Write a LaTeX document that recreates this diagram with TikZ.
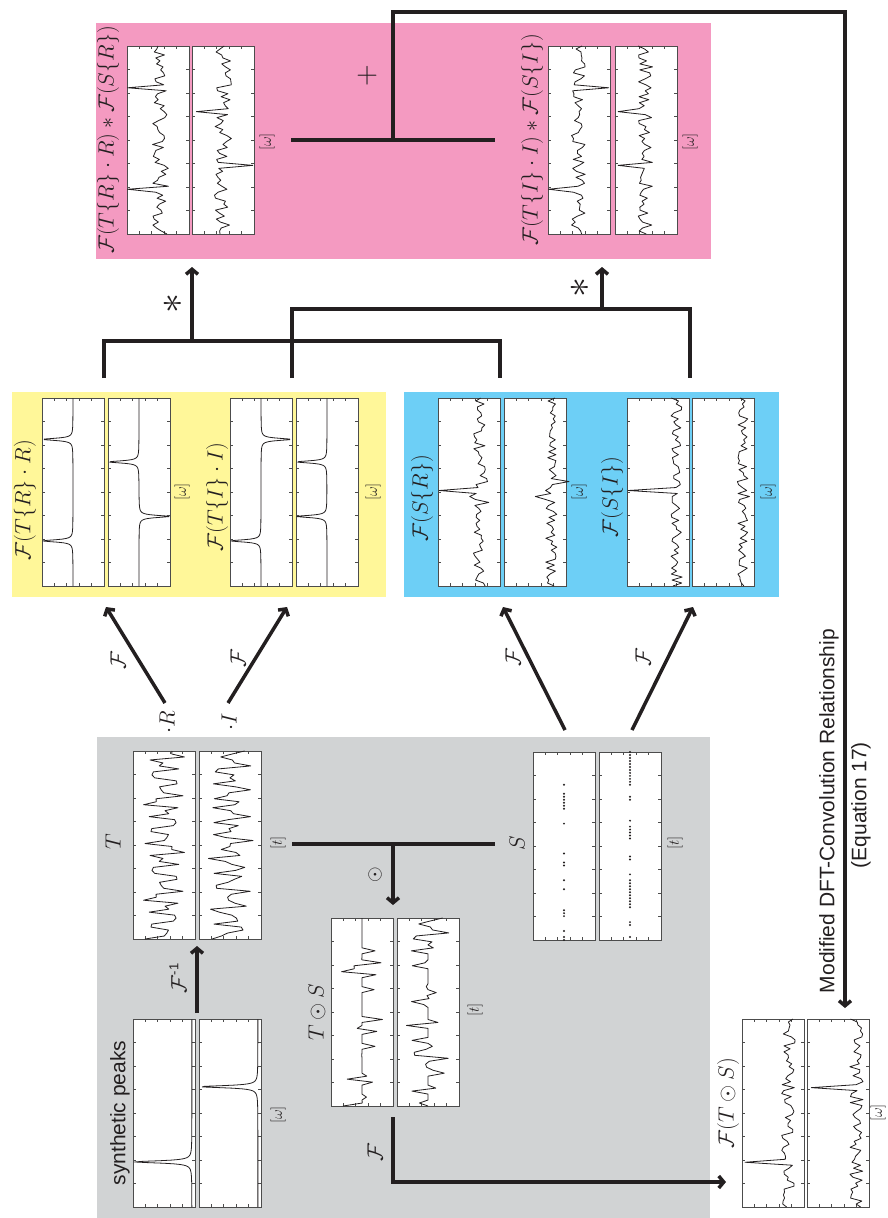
\RequirePackage{fix-cm}
\documentclass[tikz,border=0pt]{standalone}
\usepackage{fontspec}
\setsansfont{Liberation Sans}
\usetikzlibrary{arrows.meta}
\definecolor{ink}{HTML}{231F20}
\definecolor{bggray}{HTML}{D1D3D4}
\definecolor{bgyellow}{HTML}{FFF799}
\definecolor{bgblue}{HTML}{6DCFF6}
\definecolor{bgpink}{HTML}{F49AC1}
\newcommand\mfont{\fontsize{22}{26}\selectfont}
\newcommand\afont{\fontsize{15}{17}\selectfont}
\newcommand\sfont{\sffamily\fontsize{21}{25}\selectfont}
\def\mSR{{1,1,0,1,0,0,0,0,1,1,1,0,0,0,0,0,0,1,0,0,1,0,0,0,0,1,1,0,0,1,0,0,0,0,0,0,0,0,0,1,0,0,0,0,1,1,1,1,1,1,0,0,1,0,0,0,0,0,0,0,0,0,0,0}}
\def\mSI{{0,1,0,0,0,1,1,0,0,0,0,1,1,1,1,1,1,1,1,1,1,0,1,0,0,0,0,1,1,0,0,0,0,0,1,1,1,1,1,0,1,0,0,0,0,0,0,1,1,0,0,0,1,1,1,1,1,1,1,1,1,1,1,1}}
\tikzset{
  conn/.style={line width=3.5pt, draw=ink},
  arr/.style={conn, -{Straight Barb[length=5pt,width=12pt]}},
  lbl/.style={rotate=90, inner sep=0pt, font=\mfont, text=ink},
  axl/.style={rotate=90, inner sep=0pt, font=\afont, text=ink},
  stxt/.style={rotate=90, inner sep=0pt, font=\sfont, text=ink},
  sig/.style={line width=0.8pt, draw=ink, line join=round},
  tick/.style={line width=0.7pt, draw=black!70},
  pframe/.style={draw=black!70, line width=1pt, fill=white, minimum width=62pt,
    minimum height=188pt, inner sep=0pt, outer sep=0pt},
}
\newcommand\pbox[3]{%
  \node[pframe,anchor=north west] (#1) at (#2,#3) {};
  \foreach \k in {1,...,7}{
    \draw[tick] ([yshift=-\k*23.5pt]#1.north west) -- ++(3pt,0pt);
    \draw[tick] ([yshift=-\k*23.5pt]#1.north east) -- ++(-3pt,0pt);}
  \foreach \k in {1,...,4}{
    \draw[tick] ([xshift=\k*12.4pt]#1.north west) -- ++(0pt,-3pt);
    \draw[tick] ([xshift=\k*12.4pt]#1.south west) -- ++(0pt,3pt);}
}
\newcommand\pdata[3]{\begin{scope}[shift={(#1+62,#2+188)},x={(0pt,188pt)},y={(-62pt,0pt)}]#3\end{scope}}
\begin{document}
\begin{tikzpicture}[x=1pt,y=-1pt,
  declare function={
    L(\t,\c)=0.49/(0.49+(100*(\t-\c))^2);
    TR(\k)=0.5+0.2*cos(78.75*\k)+0.14*cos(191.25*\k+40)+0.08*sin(33.75*\k);
    TI(\k)=0.5+0.2*sin(84.375*\k+20)+0.14*cos(213.75*\k)+0.08*cos(39.375*\k);
  }]
\useasboundingbox (0,0) rectangle (887,1218);
% backgrounds
\fill[bggray] (97,737) rectangle (710,1218);
\fill[bgyellow] (12,392) rectangle (386,597);
\fill[bgblue] (404,392) rectangle (779,597);
\fill[bgpink] (96,23) rectangle (711,259);

% ---- synthetic peaks
\pbox{sp1}{133}{1019}\pbox{sp2}{199}{1019}
\pdata{133}{1019}{\draw[sig] plot[domain=0:1,samples=301] (\x,{0.05+0.93*L(\x,0.24)});}
\pdata{199}{1019}{\draw[sig] plot[domain=0:1,samples=301] (\x,{0.05+0.93*L(\x,0.64)});}
\node[stxt] (synlab) at (120,1113) {synthetic peaks};
\node[axl] (spw) at (278,1115) {$[\omega]$};

% ---- T
\pbox{t1}{133}{751}\pbox{t2}{199}{751}
\pdata{133}{751}{\draw[sig] plot[samples at={0,...,63},variable=\n] ({\n/63},{TR(\n)});}
\pdata{199}{751}{\draw[sig] plot[samples at={0,...,63},variable=\n] ({\n/63},{TI(\n)});}
\node[lbl] (tlab) at (113,842) {$T$};
\node[axl] (tt) at (278,843) {$[t]$};

% ---- T odot S
\pbox{ts1}{331}{918}\pbox{ts2}{397}{918}
\pdata{331}{918}{\draw[sig] plot[samples at={0,...,63},variable=\n] ({\n/63},{0.5+\mSR[\n]*(TR(\n)-0.5)});}
\pdata{397}{918}{\draw[sig] plot[samples at={0,...,63},variable=\n] ({\n/63},{0.5+\mSI[\n]*(TI(\n)-0.5)});}
\node[lbl] (tslab) at (317,1012) {$T\odot S$};
\node[axl] (tst) at (475,1010) {$[t]$};

% ---- S
\pbox{s1}{533}{752}\pbox{s2}{599}{752}
\pdata{533}{752}{\foreach \n in {0,1,3,8,9,10,17,20,25,26,29,39,44,45,46,47,48,49,52} \fill[ink] ({\n/63},0.5) circle (1.1pt);}
\pdata{599}{752}{\foreach \n in {1,5,6,11,12,13,14,15,16,17,18,19,20,22,27,28,34,35,36,37,38,40,47,48,52,53,54,55,56,57,58,59,60,61,62,63} \fill[ink] ({\n/63},0.5) circle (1.1pt);}
\node[lbl] (slab) at (517,843) {$S$};
\node[axl] (st) at (675,843) {$[t]$};

% ---- F(T odot S)
\pbox{fts1}{742}{1019}\pbox{fts2}{807}{1019}
\pgfmathsetseed{41}
\pdata{742}{1019}{\draw[sig] plot[samples at={0,...,63},variable=\n] ({\n/63},{0.25+0.11*rand*(1-(\n==15))+(\n==15)*0.7});}
\pgfmathsetseed{42}
\pdata{807}{1019}{\draw[sig] plot[samples at={0,...,63},variable=\n] ({\n/63},{0.2+0.11*rand*(1-(\n==40))+(\n==40)*0.73});}
\node[lbl] (ftslab) at (728,1103) {$\mathcal{F}(T\odot S)$};
\node[axl] (ftsw) at (878,1113) {$[\omega]$};

% ---- yellow
\pbox{yr1}{42}{398}\pbox{yr2}{108}{398}
\pdata{42}{398}{\draw[sig] plot[domain=0:1,samples=301] (\x,{0.5+0.49*L(\x,0.24)+0.49*L(\x,0.78)});}
\pdata{108}{398}{\draw[sig] plot[domain=0:1,samples=301] (\x,{0.5+0.49*L(\x,0.66)-0.49*L(\x,0.37)});}
\pbox{yi1}{230}{398}\pbox{yi2}{296}{398}
\pdata{230}{398}{\draw[sig] plot[domain=0:1,samples=301] (\x,{0.5+0.49*L(\x,0.24)-0.49*L(\x,0.78)});}
\pdata{296}{398}{\draw[sig] plot[domain=0:1,samples=301] (\x,{0.5+0.49*L(\x,0.66)+0.49*L(\x,0.37)});}
\node[lbl] (yrlab) at (25,500) {$\mathcal{F}(T\{R\}\cdot R)$};
\node[axl] (yrw) at (182,492) {$[\omega]$};
\node[lbl] (yilab) at (217,497) {$\mathcal{F}(T\{I\}\cdot I)$};
\node[axl] (yiw) at (373,492) {$[\omega]$};

% ---- blue
\pbox{br1}{438}{398}\pbox{br2}{504}{398}
\pgfmathsetseed{31}
\pdata{438}{398}{\draw[sig] plot[samples at={0,...,63},variable=\n] ({\n/63},{0.33+(0.1+0.12*(abs(\n-32)<5))*rand*(1-(\n==32))+(\n==32)*0.65});}
\pgfmathsetseed{32}
\pdata{504}{398}{\draw[sig] plot[samples at={0,...,63},variable=\n] ({\n/63},{0.24+0.1*rand+(\n==30)*0.28-(\n==35)*0.2});}
\pbox{bi1}{627}{398}\pbox{bi2}{692}{398}
\pgfmathsetseed{33}
\pdata{627}{398}{\draw[sig] plot[samples at={0,...,63},variable=\n] ({\n/63},{0.2+0.09*rand*(1-(\n==32))+(\n==32)*0.78});}
\pgfmathsetseed{34}
\pdata{692}{398}{\draw[sig] plot[samples at={0,...,63},variable=\n] ({\n/63},{0.18+0.08*rand+(\n==35)*0.15-(\n==30)*0.15});}
\node[lbl] (brlab) at (422,498) {$\mathcal{F}(S\{R\})$};
\node[axl] (brw) at (579,492) {$[\omega]$};
\node[lbl] (bilab) at (612,497) {$\mathcal{F}(S\{I\})$};
\node[axl] (biw) at (768,492) {$[\omega]$};

% ---- pink
\pbox{pr1}{127}{46}\pbox{pr2}{192}{46}
\pgfmathsetseed{21}
\pdata{127}{46}{\draw[sig] plot[samples at={0,...,63},variable=\n] ({\n/63},{0.46+0.13*rand*(1-(\n==15)-(\n==49))+(\n==15)*0.53+(\n==49)*0.53});}
\pgfmathsetseed{22}
\pdata{192}{46}{\draw[sig] plot[samples at={0,...,63},variable=\n] ({\n/63},{0.5+0.14*rand*(1-(\n==41)-(\n==23))+(\n==41)*0.43-(\n==23)*0.48});}
\pbox{pi1}{548}{46}\pbox{pi2}{615}{46}
\pgfmathsetseed{23}
\pdata{548}{46}{\draw[sig] plot[samples at={0,...,63},variable=\n] ({\n/63},{0.52+0.12*rand*(1-(\n==15)-(\n==49))+(\n==15)*0.47-(\n==49)*0.5});}
\pgfmathsetseed{24}
\pdata{615}{46}{\draw[sig] plot[samples at={0,...,63},variable=\n] ({\n/63},{0.51+0.12*rand*(1-(\n==41)-(\n==23))+(\n==41)*0.44+(\n==23)*0.44});}
\node[lbl] (prlab) at (108,140) {$\mathcal{F}(T\{R\}\cdot R)\ast\mathcal{F}(S\{R\})$};
\node[axl] (prw) at (267,142) {$[\omega]$};
\node[lbl] (pilab) at (532,140) {$\mathcal{F}(T\{I\}\cdot I)\ast\mathcal{F}(S\{I\})$};
\node[axl] (piw) at (690,142) {$[\omega]$};
\node[lbl,font=\fontsize{30}{32}\selectfont] (plus) at (367,76) {$+$};

% ---- connectors
\coordinate (a1s) at (197,1013); \coordinate (a1e) at (197,946);
\draw[arr] (a1s) -- (a1e);
\node[lbl] (finv) at (178,978) {$\mathcal{F}^{\textsf{\fontsize{13}{14}\selectfont -1}}$};

\coordinate (jT) at (292,844); \coordinate (jS) at (495,844);
\coordinate (jM) at (393,844); \coordinate (jE) at (393,905);
\draw[conn] (jT) -- (jS);
\draw[arr] (jM) -- (jE);
\node[lbl,font=\fontsize{20}{22}\selectfont] (odot) at (375,875) {$\odot$};

\coordinate (b0) at (393,1117); \coordinate (b1) at (393,1182); \coordinate (b2) at (726,1182);
\draw[arr] (b0) -- (b1) -- (b2);
\node[lbl] (fb) at (375,1152) {$\mathcal{F}$};

\coordinate (pL) at (291,140); \coordinate (pR) at (495,140);
\coordinate (c0) at (393,140); \coordinate (c1) at (393,12);
\coordinate (c2) at (845,12); \coordinate (c3) at (845,1008);
\draw[conn] (pL) -- (pR);
\draw[arr] (c0) -- (c1) -- (c2) -- (c3);
\node[stxt] (mod) at (829,811) {Modified DFT-Convolution Relationship};
\node[stxt] (eq) at (861,805) {(Equation 17)};

\coordinate (s1a) at (104,378); \coordinate (s1b) at (104,341);
\coordinate (s1c) at (500,341); \coordinate (s1d) at (500,378);
\coordinate (s1m) at (192,341); \coordinate (s1e) at (192,267);
\draw[conn] (s1a) -- (s1b) -- (s1c) -- (s1d);
\draw[arr] (s1m) -- (s1e);
\node[lbl,font=\fontsize{40}{42}\selectfont] (st1) at (173,303) {$\ast$};

\coordinate (s2a) at (292,378); \coordinate (s2b) at (292,309);
\coordinate (s2c) at (690,309); \coordinate (s2d) at (690,378);
\coordinate (s2m) at (602,309); \coordinate (s2e) at (602,267);
\draw[conn] (s2a) -- (s2b) -- (s2c) -- (s2d);
\draw[arr] (s2m) -- (s2e);
\node[lbl,font=\fontsize{40}{42}\selectfont] (st2) at (580,287) {$\ast$};

\coordinate (fR0) at (165,703); \coordinate (fR1) at (106,607);
\coordinate (fI0) at (228,703); \coordinate (fI1) at (287,607);
\coordinate (fSR0) at (565,730); \coordinate (fSR1) at (503,607);
\coordinate (fSI0) at (632,730); \coordinate (fSI1) at (693,607);
\draw[arr] (fR0) -- (fR1);
\draw[arr] (fI0) -- (fI1);
\draw[arr] (fSR0) -- (fSR1);
\draw[arr] (fSI0) -- (fSI1);
\node[lbl] (fl1) at (118,660) {$\mathcal{F}$};
\node[lbl] (fl2) at (238,658) {$\mathcal{F}$};
\node[lbl] (fl3) at (513,657) {$\mathcal{F}$};
\node[lbl] (fl4) at (643,657) {$\mathcal{F}$};
\node[lbl] (dr) at (167,722) {$\cdot R$};
\node[lbl] (di) at (229,722) {$\cdot I$};
\end{tikzpicture}
\end{document}
